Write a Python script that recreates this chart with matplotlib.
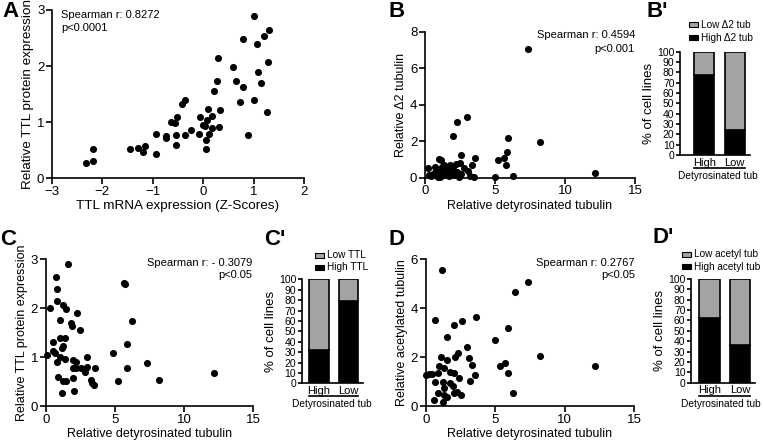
import matplotlib
matplotlib.use("Agg")
import matplotlib.pyplot as plt
from matplotlib.patches import Rectangle

plt.rcParams['font.family'] = ['Liberation Sans', 'DejaVu Sans']

W, H = 763, 444
DPI = 100

# ---------------- Data ----------------
# Panel A: TTL mRNA (Z-score) vs relative TTL protein
a_x = [-2.33, -2.18, -2.18, -1.45, -1.29, -1.20, -1.15, -0.94, -0.94, -0.74, -0.74,
       -0.54, -0.54, -0.64, -0.56, -0.51, -0.42, -0.36, -0.36, -0.24, -0.08, -0.06,
       -0.01, 0.04, 0.07, 0.06, 0.06, 0.10, 0.11, 0.17, 0.17, 0.31, 0.34, 0.22,
       0.27, 0.29, 0.60, 0.66, 0.78, 0.78, 0.74, 0.88, 1.01, 1.31, 1.21, 1.06,
       1.29, 1.09, 1.15, 1.01, 1.27]
a_y = [0.27, 0.31, 0.51, 0.52, 0.54, 0.47, 0.58, 0.43, 0.78, 0.72, 0.75,
       0.59, 0.77, 1.00, 0.99, 1.09, 1.32, 1.39, 0.77, 0.86, 0.79, 1.09,
       0.95, 0.92, 1.03, 0.68, 0.52, 1.24, 0.78, 0.89, 1.10, 0.91, 1.21, 1.55,
       1.73, 2.15, 1.99, 1.74, 1.63, 2.48, 1.36, 0.76, 2.90, 2.64, 2.54, 2.39,
       2.07, 1.90, 1.69, 1.39, 1.18]

# Panel B: relative detyrosinated tubulin vs relative delta2 tubulin
b_x = [0.20, 0.30, 0.40, 0.60, 0.70, 0.80, 0.90, 1.00, 1.05, 1.10, 1.20, 1.30,
       1.35, 1.40, 1.50, 1.60, 1.70, 1.80, 1.90, 2.00, 2.10, 2.20, 2.30, 2.40,
       2.50, 2.60, 2.80, 3.10, 3.20, 3.50, 1.12, 2.02, 2.26, 3.02, 2.55, 3.57,
       3.33, 5.24, 5.64, 5.88, 5.95, 5.79, 5.00, 6.30, 7.38, 8.21, 12.16]
b_y = [0.55, 0.15, 0.10, 0.20, 0.60, 0.40, 0.05, 1.00, 0.05, 0.30, 0.60, 0.15,
       0.70, 0.40, 0.25, 0.50, 0.10, 0.70, 0.30, 0.45, 0.15, 0.75, 0.30, 0.05,
       0.80, 0.20, 0.55, 0.35, 0.10, 0.05, 0.95, 2.30, 3.05, 3.33, 1.22, 1.08,
       0.67, 0.97, 1.10, 1.40, 2.20, 0.67, 0.05, 0.10, 7.03, 1.98, 0.28]

# Panel C: relative detyrosinated tubulin vs relative TTL protein
c_x = [1.64, 0.72, 0.80, 0.80, 0.31, 1.28, 1.45, 2.29, 1.04, 1.83, 1.93, 2.48,
       0.55, 1.04, 1.40, 1.28, 1.16, 0.55, 0.67, 0.12, 1.04, 1.40, 0.80, 2.00,
       2.19, 3.01, 2.96, 1.95, 2.19, 2.53, 2.84, 3.57, 0.92, 1.95, 3.25, 3.33,
       3.49, 1.28, 1.47, 1.16, 2.05, 4.89, 5.25, 5.66, 5.73, 6.22, 5.90, 5.86,
       7.35, 8.19, 12.17]
c_y = [2.89, 2.64, 2.38, 2.14, 1.99, 2.07, 1.98, 1.89, 1.76, 1.69, 1.63, 1.56,
       1.31, 1.38, 1.38, 1.22, 1.18, 1.12, 1.09, 1.05, 1.01, 0.95, 0.90, 0.94,
       0.90, 0.99, 0.80, 0.77, 0.77, 0.77, 0.70, 0.77, 0.60, 0.58, 0.54, 0.46,
       0.43, 0.51, 0.51, 0.27, 0.31, 1.09, 0.51, 2.52, 2.48, 1.73, 1.26, 0.78,
       0.87, 0.53, 0.67]

# Panel D: relative detyrosinated tubulin vs relative acetylated tubulin
d_x = [1.15, 0.67, 2.00, 2.60, 3.60, 3.00, 1.51, 1.08, 1.56, 2.12, 2.31, 3.08,
       3.32, 0.99, 1.32, 0.24, 0.43, 0.87, 1.75, 2.04, 0.67, 1.27, 1.75, 2.36,
       3.56, 3.20, 1.95, 2.24, 1.35, 2.04, 2.52, 0.91, 1.35, 0.60, 1.23, 1.51,
       0.05, 5.00, 5.36, 5.72, 5.91, 6.45, 5.94, 6.27, 7.38, 8.22, 12.20]
d_y = [5.57, 3.52, 3.31, 3.48, 3.66, 2.43, 2.84, 1.99, 1.88, 2.02, 2.16, 1.98,
       1.68, 1.64, 1.54, 1.31, 1.31, 1.34, 1.41, 1.34, 0.97, 0.97, 0.93, 1.16,
       1.27, 1.02, 0.83, 0.59, 0.72, 0.52, 0.45, 0.52, 0.45, 0.25, 0.18, 0.38,
       1.25, 2.70, 1.65, 1.77, 1.34, 4.68, 3.18, 0.52, 5.07, 2.05, 1.65]

# Stacked bars (% of cell lines)
bar_groups = ["High", "Low"]
bp_high = [77, 24]   # High delta2 tub
cp_high = [32, 79]   # High TTL
dp_high = [62, 36]   # High acetyl tub

GREY = '#a3a3a3'

fig = plt.figure(figsize=(W / DPI, H / DPI), dpi=DPI)


def add_ax(l, r, t, b):
    return fig.add_axes([l / W, 1 - b / H, (r - l) / W, (b - t) / H])


def style(ax, fs=8):
    for s in ['top', 'right']:
        ax.spines[s].set_visible(False)
    for s in ['left', 'bottom']:
        ax.spines[s].set_linewidth(1.2)
    ax.tick_params(direction='out', length=4, width=1.2, labelsize=fs, pad=1.5)


def scatter_panel(ax, x, y, xlim, ylim, xt, yt, xlabel, ylabel, lfs=9):
    ax.scatter(x, y, s=26, color='black', linewidths=0, clip_on=False, zorder=3)
    ax.set_xlim(*xlim)
    ax.set_ylim(*ylim)
    ax.set_xticks(xt)
    ax.set_yticks(yt)
    style(ax, 9.5)
    ax.set_xlabel(xlabel, fontsize=lfs, labelpad=2)
    ax.set_ylabel(ylabel, fontsize=lfs, labelpad=2)


def fig_text(x, y, s, **kw):
    fig.text(x / W, 1 - y / H, s, **kw)


# Panel A
axA = add_ax(52, 304, 10, 178)
scatter_panel(axA, a_x, a_y, (-3, 2), (0, 3), [-3, -2, -1, 0, 1, 2], [0, 1, 2, 3],
              'TTL mRNA expression (Z-Scores)', 'Relative TTL protein expression', lfs=9.7)
fig_text(61, 15, 'Spearman r: 0.8272', fontsize=8, va='center', ha='left')
fig_text(61, 28, 'p<0.0001', fontsize=8, va='center', ha='left')

# Panel B
axB = add_ax(425, 635, 31.7, 177.7)
scatter_panel(axB, b_x, b_y, (0, 15), (0, 8), [0, 5, 10, 15], [0, 2, 4, 6, 8],
              'Relative detyrosinated tubulin', 'Relative \u03942 tubulin')
fig_text(635, 35, 'Spearman r: 0.4594', fontsize=8, va='center', ha='right')
fig_text(635, 49, 'p<0.001', fontsize=8, va='center', ha='right')

# Panel C
axC = add_ax(45.7, 253.3, 259, 406)
scatter_panel(axC, c_x, c_y, (0, 15), (0, 3), [0, 5, 10, 15], [0, 1, 2, 3],
              'Relative detyrosinated tubulin', 'Relative TTL protein expression')
fig_text(252, 263, 'Spearman r: - 0.3079', fontsize=8, va='center', ha='right')
fig_text(252, 275, 'p<0.05', fontsize=8, va='center', ha='right')

# Panel D
axD = add_ax(425.7, 634.3, 259.3, 406)
scatter_panel(axD, d_x, d_y, (0, 15), (0, 6), [0, 5, 10, 15], [0, 2, 4, 6],
              'Relative detyrosinated tubulin', 'Relative acetylated tubulin')
fig_text(635, 263, 'Spearman r: 0.2767', fontsize=8, va='center', ha='right')
fig_text(635, 275, 'p<0.05', fontsize=8, va='center', ha='right')


def bar_panel(l, r, t, b, xl, xr, high, low_label, high_label, leg, title_x):
    ax = add_ax(l, r, t, b)
    pos = [0, 1]
    w = 0.66
    low = [100 - v for v in high]
    ax.bar(pos, high, width=w, color='black', edgecolor='black', linewidth=1.2, zorder=2)
    ax.bar(pos, low, bottom=high, width=w, color=GREY, edgecolor='black', linewidth=1.2, zorder=2)
    ax.set_xlim(xl, xr)
    ax.set_ylim(0, 100)
    ax.set_yticks(range(0, 101, 10))
    ax.set_xticks(pos)
    ax.set_xticklabels(bar_groups)
    style(ax, 7.5)
    ax.tick_params(axis='y', length=3, pad=1)
    ax.tick_params(axis='x', length=0, pad=2, labelsize=8)
    ax.set_ylabel('% of cell lines', fontsize=9.5, labelpad=1.5)
    # underline + group title
    ax.plot([-w / 2, 1 + w / 2], [-0.125, -0.125], color='black', lw=1.2,
            transform=ax.get_xaxis_transform(), clip_on=False)
    fig_text(title_x, b + 16, 'Detyrosinated tub', fontsize=7.3, ha='center', va='top')
    # legend
    px, py1, py2, tx = leg
    for py, col, lab in [(py1, GREY, low_label), (py2, 'black', high_label)]:
        fig.patches.append(Rectangle((px / W, 1 - (py + 2.5) / H), 9 / W, 5 / H,
                                     transform=fig.transFigure, facecolor=col,
                                     edgecolor='black', linewidth=0.8))
        fig_text(tx, py, lab, fontsize=7.2, va='center', ha='left')
    return ax


bar_panel(680, 750, 51.7, 155, -0.79, 1.5, bp_high, 'Low \u03942 tub', 'High \u03942 tub',
          (689, 25, 38, 701), 718)
bar_panel(301.7, 363, 279.3, 383.3, -0.59, 1.49, cp_high, 'Low TTL', 'High TTL',
          (315, 255, 267, 327), 332)
bar_panel(691, 755, 279, 382.7, -0.61, 1.5, dp_high, 'Low acetyl tub', 'High acetyl tub',
          (682, 254, 266.7, 694), 721)

# Panel letters
for s, x, y in [('A', 2, 1), ('B', 388, 1), ("B'", 646, 1), ('C', 0, 229),
                ("C'", 264, 229), ('D', 388, 229), ("D'", 652, 227)]:
    fig_text(x, y, s, fontsize=16, fontweight='bold', va='top', ha='left')

fig.savefig('out.png', dpi=DPI)
